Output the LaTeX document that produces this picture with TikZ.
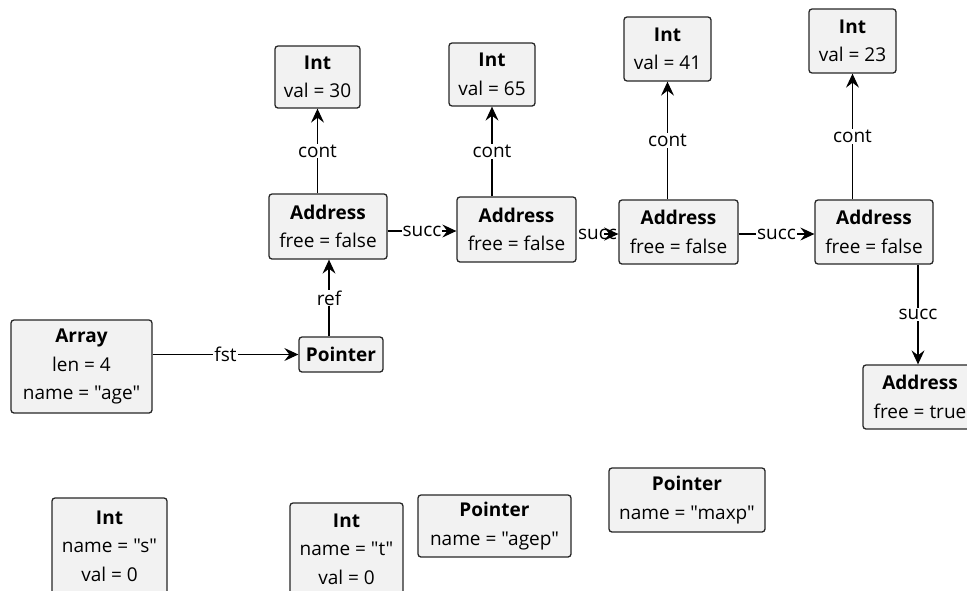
\documentclass[tikz,border=0pt]{standalone}
\usepackage{fontspec}
\setmainfont{Open Sans}[Ligatures=TeXOff]
\usetikzlibrary{arrows.meta,calc}
\definecolor{boxfill}{HTML}{F2F2F2}
\definecolor{boxline}{HTML}{262626}
\begin{document}
\begin{tikzpicture}[x=1pt,y=-1pt,
  obj/.style={draw=boxline,fill=boxfill,line width=1.3pt,rounded corners=3pt,
    inner sep=0pt,align=center,font=\fontsize{19}{28.5}\selectfont},
  edge/.style={line width=1.1pt,-{Stealth[length=14pt,width=13pt,inset=5pt]}},
  lbl/.style={fill=white,inner sep=1pt,font=\fontsize{19}{22}\selectfont}]
\useasboundingbox (0,0) rectangle (967,590);
% Ints at top
\node[obj,minimum width=85pt,minimum height=62pt] (i30) at (317.5,77) {\textbf{Int}\\val = 30};
\node[obj,minimum width=86pt,minimum height=63pt] (i65) at (492,74.5) {\textbf{Int}\\val = 65};
\node[obj,minimum width=87pt,minimum height=64pt] (i41) at (667.5,49) {\textbf{Int}\\val = 41};
\node[obj,minimum width=87pt,minimum height=64pt] (i23) at (852.5,41) {\textbf{Int}\\val = 23};
% Addresses
\node[obj,minimum width=118pt,minimum height=65pt] (a1) at (328,226.5) {\textbf{Address}\\free = false};
\node[obj,minimum width=119pt,minimum height=65pt] (a2) at (516.5,229.5) {\textbf{Address}\\free = false};
\node[obj,minimum width=119pt,minimum height=64pt] (a3) at (678.5,232) {\textbf{Address}\\free = false};
\node[obj,minimum width=118pt,minimum height=64pt] (a4) at (874,232) {\textbf{Address}\\free = false};
\node[obj,minimum width=114pt,minimum height=64pt] (a5) at (920,397) {\textbf{Address}\\free = true};
% Array and pointer
\node[obj,minimum width=141pt,minimum height=93pt] (arr) at (81.5,366.5) {\textbf{Array}\\len = 4\\name = "age"};
\node[obj,minimum width=84pt,minimum height=35pt] (p1) at (341,354.5) {\textbf{Pointer}};
% bottom row
\node[obj,minimum width=115pt,minimum height=96pt] (is) at (109.5,546) {\textbf{Int}\\name = "s"\\val = 0};
\node[obj,minimum width=113pt,minimum height=92pt] (it) at (346.5,549) {\textbf{Int}\\name = "t"\\val = 0};
\node[obj,minimum width=153pt,minimum height=62pt] (pagep) at (494.5,526) {\textbf{Pointer}\\name = "agep"};
\node[obj,minimum width=156pt,minimum height=64pt] (pmaxp) at (687,500) {\textbf{Pointer}\\name = "maxp"};
% cont edges
\draw[edge] (a1.north -| i30.south) -- node[lbl]{cont} (i30.south);
\draw[edge] (a2.north -| i65.south) -- node[lbl]{cont} (i65.south);
\draw[edge] (a3.north -| i41.south) -- node[lbl]{cont} (i41.south);
\draw[edge] (a4.north -| i23.south) -- node[lbl]{cont} (i23.south);
% succ edges
\draw[edge] (a1.east |- 0,231) -- node[lbl]{succ} (a2.west |- 0,231);
\draw[edge] (a2.east |- 0,234) -- node[lbl]{succ} (a3.west |- 0,234);
\draw[edge] ($(a3.west |- 0,234)+(-14,0)$) coordinate (a3in) -- (a3.west |- 0,234);
\draw[edge] (a3.east |- 0,234) -- node[lbl]{succ} (a4.west |- 0,234);
\draw[edge] (a4.south -| 918,0) -- node[lbl]{succ} (a5.north -| 918,0);
% ref and fst
\draw[edge] (p1.north -| 329,0) -- node[lbl]{ref} (a1.south -| 329,0);
\draw[edge] (arr.east |- p1.west) -- node[lbl]{fst} (p1.west);
\end{tikzpicture}
\end{document}
